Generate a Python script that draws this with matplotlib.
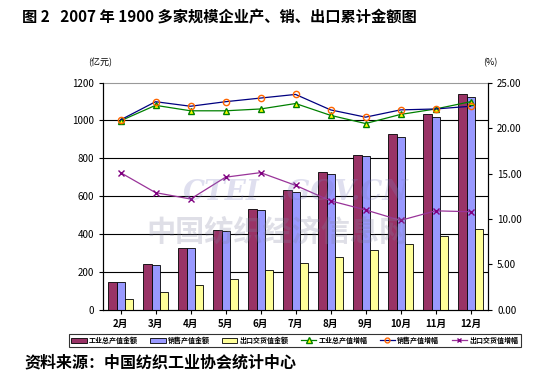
import numpy as np
import matplotlib
matplotlib.use("Agg")
import matplotlib.pyplot as plt
from matplotlib.lines import Line2D
from matplotlib.patches import Patch

plt.rcParams['font.family'] = ['Noto Sans CJK SC', 'DejaVu Sans']

# 月份
months = ["2月", "3月", "4月", "5月", "6月", "7月", "8月", "9月", "10月", "11月", "12月"]

# 金额（亿元）
output_value = [146, 241, 326, 420, 531, 632, 727, 820, 927, 1033, 1138]
sales_value = [146, 236, 326, 415, 526, 623, 716, 811, 911, 1017, 1122]
export_value = [58, 93, 130, 165, 209, 246, 278, 315, 348, 390, 426]

# 增幅（%）
output_growth = [20.8, 22.5, 21.9, 21.9, 22.1, 22.7, 21.4, 20.5, 21.5, 22.1, 22.9]
sales_growth = [20.9, 22.9, 22.4, 22.9, 23.3, 23.7, 22.0, 21.2, 22.0, 22.1, 22.4]
export_growth = [15.1, 12.9, 12.2, 14.6, 15.1, 13.7, 12.0, 11.0, 9.85, 10.9, 10.8]

legend_labels = ["工业总产值金额", "销售产值金额", "出口交货值金额",
                 "工业总产值增幅", "销售产值增幅", "出口交货值增幅"]

fig = plt.figure(figsize=(5.54, 3.86), dpi=100)
ax = fig.add_axes([0.186, 0.197, 0.695, 0.589])

x = np.arange(len(months))
w = 0.23
ax.bar(x - w, output_value, w, color="#993366", edgecolor="black", linewidth=0.6, zorder=3)
ax.bar(x, sales_value, w, color="#9999FF", edgecolor="black", linewidth=0.6, zorder=3)
ax.bar(x + w, export_value, w, color="#FFFF99", edgecolor="black", linewidth=0.6, zorder=3)

ax.set_xlim(-0.5, len(months) - 0.5)
ax.set_ylim(0, 1200)
ax.set_yticks(range(0, 1201, 200))
ax.set_xticks(x)
ax.set_xticklabels(months, fontsize=7, fontweight="bold")
ax.tick_params(axis="y", labelsize=7, length=3)
ax.tick_params(axis="x", length=3)
for yv in range(200, 1200, 200):
    ax.axhline(yv, color="black", linewidth=0.8, zorder=1)
ax.spines["top"].set_color("#999999")
for s in ["left", "bottom"]:
    ax.spines[s].set_linewidth(0.8)

ax2 = ax.twinx()
ax2.set_ylim(0, 25)
ax2.set_yticks(np.arange(0, 25.1, 5))
ax2.set_yticklabels(["%.2f" % v for v in np.arange(0, 25.1, 5)], fontsize=7)
ax2.tick_params(axis="y", length=3)
ax2.spines["top"].set_visible(False)
ax2.plot(x, output_growth, color="#008000", linewidth=0.9, marker="^", markersize=5,
         markerfacecolor="#FFFF00", markeredgecolor="#008000", zorder=4)
ax2.plot(x, sales_growth, color="#000080", linewidth=0.9, marker="o", markersize=4.5,
         markerfacecolor="none", markeredgecolor="#FF6600", zorder=4)
ax2.plot(x, export_growth, color="#993399", linewidth=0.9, marker="x", markersize=4,
         markeredgecolor="#800080", zorder=4)

# 水印
fig.text(0.50, 0.40, "中国纺织经济信息网", fontsize=21, color="#8080A0", alpha=0.25,
         ha="center", va="center", fontweight="bold")
fig.text(0.40, 0.50, "CTEI", fontsize=20, color="#8080C0", alpha=0.25,
         ha="center", va="center", style="italic", fontweight="bold", family="DejaVu Serif")
fig.text(0.62, 0.50, ".GOV.CN", fontsize=20, color="#8080C0", alpha=0.25,
         ha="center", va="center", style="italic", fontweight="bold", family="DejaVu Serif")

fig.text(0.04, 0.955, "图 2   2007 年 1900 多家规模企业产、销、出口累计金额图",
         fontsize=11, fontweight="bold", va="center")
fig.text(0.181, 0.837, "(亿元)", fontsize=6.5, ha="center", va="center")
fig.text(0.885, 0.837, "(%)", fontsize=6.5, ha="center", va="center")

handles = [
    Patch(facecolor="#993366", edgecolor="black", linewidth=0.6),
    Patch(facecolor="#9999FF", edgecolor="black", linewidth=0.6),
    Patch(facecolor="#FFFF99", edgecolor="black", linewidth=0.6),
    Line2D([], [], color="#008000", marker="^", markersize=4, markerfacecolor="#FFFF00", linewidth=0.9),
    Line2D([], [], color="#000080", marker="o", markersize=3.5, markerfacecolor="none",
           markeredgecolor="#FF6600", linewidth=0.9),
    Line2D([], [], color="#993399", marker="x", markersize=3.5, markeredgecolor="#800080", linewidth=0.9),
]
leg = fig.legend(handles, legend_labels, loc="center", bbox_to_anchor=(0.532, 0.119),
                 ncol=6, fontsize=5, frameon=True, fancybox=False, edgecolor="black",
                 handlelength=2.2, handleheight=0.7, columnspacing=1.8, handletextpad=0.3,
                 borderpad=0.4)
leg.get_frame().set_linewidth(0.8)
for t in leg.get_texts():
    t.set_fontweight("bold")

fig.text(0.045, 0.062, "资料来源：中国纺织工业协会统计中心", fontsize=11.5, fontweight="bold", va="center")

fig.savefig("out.png", dpi=100)
